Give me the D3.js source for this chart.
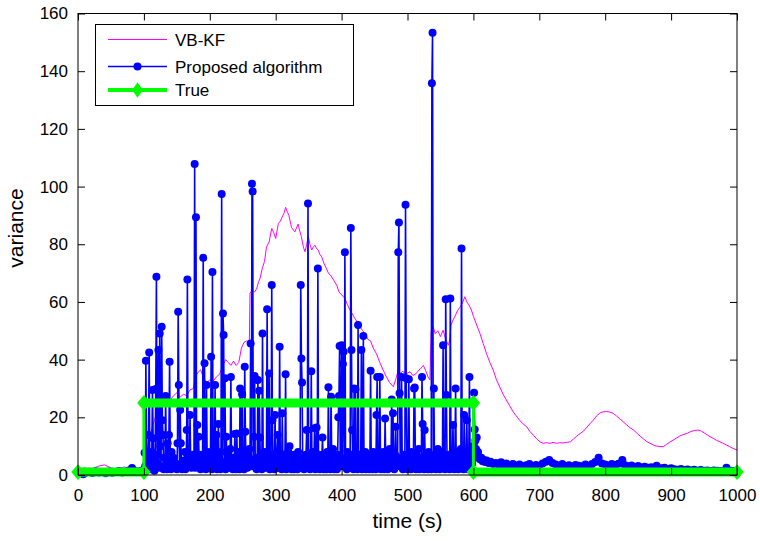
<!DOCTYPE html>
<html>
<head>
<meta charset="utf-8">
<script src="https://cdn.jsdelivr.net/npm/d3@7"></script>
<style>
  body { margin: 0; background: #fff; }
  svg { display: block; font-family: "Liberation Sans", Arial, sans-serif; }
</style>
</head>
<body>
<svg width="760" height="541"></svg>
<script>
"use strict";

// VB-KF estimate (t, variance)
var vbkf = [
  [0,2],[10,2.5],[20,2],[30,3],[40,3.5],[50,2.5],[60,2],[70,2.8],[80,2.2],[90,2.5],[100,2.2],
  [104,6],[108,12],[112,16],[116,19],[120,22],[125,23.5],[130,25],[135,26.5],[140,26],[145,27.5],
  [150,28.5],[155,27],[160,28],[165,27.5],[170,29.5],[175,30],[178,34],[182,35.5],[186,36.5],
  [190,34],[195,32],[200,33],[205,32.5],[210,34],[215,35],[220,38],[224,40],[228,39],[232,38],
  [236,39.5],[240,38],[244,39],[248,44],[252,46],[256,46.5],[260,46],[261,63],[264,64],[268,63.5],
  [271,64.5],[274,67],[276,68],[280,72],[283,74],[286,79],[290,80.8],[294,85.5],[297,84],[300,82],
  [304,87.2],[307,88],[310,89.5],[313,91],[315,92.8],[318,91],[320,90],[324,85.8],[329,84.3],
  [334,87],[336,85],[339,82.6],[342,79],[344.5,77.4],[347,80],[349.5,82.6],[352,80],[354.6,78],
  [357,79],[359.6,79.7],[362,78.5],[364.6,78],[367,76.5],[369.8,75.6],[373,73.5],[376,72],[380,70],
  [384,69],[388,67.5],[392.6,65.8],[396,63.5],[400,62.5],[405,61.2],[409,59],[412.7,57.2],[416,56],
  [420,54.3],[424,53],[428,51.4],[432,50],[436,49],[440,47],[444,46.5],[448,44],[453,42],[458,39],
  [463,36.4],[468,34],[473,32],[478.5,30.6],[482,33],[486,36.4],[489,35.2],[493,36],[497,35],
  [504,35.8],[508,34.5],[512,35],[516,36],[520,37],[524,38],[528,36],[531,34],[534,33],[536,50],
  [539,51.4],[542,49],[546,50],[550,48],[554,50.2],[558,47],[562,45],[564,46.8],[566,52],[569,53.7],
  [572,55],[576,57],[580,58.3],[584,60],[587,61.8],[590,60],[593,59],[597,57.2],[600,55],[605,52],
  [610,49],[615,45.5],[620,42],[625,39],[630,36.4],[635,33],[640,30.5],[645,28],[650,26],[655,24],
  [660,22],[665,20.5],[670,19],[675,17.8],[681,16.7],[686,15],[691,13.8],[696,12.5],[701,11.5],
  [706,11],[711,11.2],[716,11],[721,11.3],[726,11],[731,11.2],[736,11.1],[741,11.3],[747,11.5],
  [752,12.5],[757,13.5],[762,14.4],[767,15.2],[772,16.5],[777,17.8],[782,19],[787,20.5],[792,21.5],
  [797,21.9],[802,22],[807,21.8],[812,21.4],[817,20.5],[822,19.5],[827,18.5],[832,17.5],[837,16.5],
  [843,15.6],[848,14.5],[853,13.5],[858,12.5],[863,11.6],[868,11],[873,10.4],[878,10],[883,9.9],
  [888,9.8],[893,10.6],[898,11.4],[903,12.1],[908,12.8],[913,13.5],[918,14],[924,14.4],[929,15],
  [935,15.4],[941,15.6],[946,15.2],[951,14.5],[955,13.9],[959,13.3],[964,12.7],[969,12],[974,11.5],
  [979,11],[984,10.4],[989,9.8],[994,9.2],[1000,8.7]
];

// proposed algorithm estimate (t, variance)
var proposed = [
  [0,1.2],[4,0.8],[8,0.3],[12,0.9],[17,1.1],[22,0.7],[27,1.3],[32,0.9],[37,1.0],[42,0.6],[47,1.2],
  [52,0.8],[57,1.0],[62,1.4],[67,0.9],[72,1.1],[77,1.6],[82,2.4],[87,1.3],[92,1.0],[96,1.5],
  [100,1.8],[101,7.7],[102,3],[103,39.6],[104,4],[105,2.5],[106,6],[107,13.9],[108,42.5],[109,3],
  [110,5.5],[111,2],[112,8],[113,29.5],[114,12.7],[115,3],[116,1.5],[117,5],[118,29.8],[119,68.7],
  [120,4],[121,7],[122,43.3],[123,2.5],[124,49.1],[125,10],[126,3],[127,51.4],[128,19],[129,13.9],
  [130,2],[131,6],[132,3],[133,27.4],[134,4.5],[135,2],[136,11],[137,3.5],[138,13.9],[139,39.3],
  [140,5],[141,2],[142,8],[143,3],[145,6],[146,2.5],[148,4],[150,2],[151,11],[152,56.6],[153,31.2],
  [154,3],[155,22.5],[156,11],[157,4],[158,2],[160,5],[161,3],[162,8],[163,2],[164,4],[165,15.6],
  [166,67.8],[167,4],[168,6],[169,3],[170,20.8],[171,5],[172,2.5],[174,7],[175,3],[176,5],
  [177,107.8],[178,2.5],[179,89.4],[180,6],[181,17.3],[182,4],[183,13.3],[184,3],[185,7],[186,2],
  [187,4.5],[188,3],[189,6],[190,75.3],[191,3],[192,38.7],[193,5],[194,2],[195,31.2],[196,4],
  [197,8],[198,2.5],[199,5],[200,3],[201,7],[202,41],[203,2],[204,70.4],[205,5],[206,3],[207,9],
  [208,31.2],[209,4],[210,13.9],[211,2],[212,6],[213,17.7],[214,3],[215,5],[216,2],[217,8],
  [218,97.4],[219,3],[220,56],[221,48.5],[222,4],[223,33.5],[224,2],[225,13.3],[226,5],[227,3],
  [228,7],[229,2.5],[230,4],[231,9],[232,34],[233,3],[234,5],[235,2],[236,6],[237,3],[238,14.2],
  [239,4],[240,2],[241,14.4],[242,5],[243,3],[244,8],[245,2],[246,30],[247,4],[248,6],[249,28],
  [250,3],[251,5],[252,2],[253,37.5],[254,15],[255,4],[256,7],[257,2.5],[258,5],[259,3],[260,9],
  [261,4],[262,45.6],[263,3],[264,101],[265,98.3],[266,5],[267,13.3],[268,34.3],[269,3],[270,6],
  [271,2],[272,5],[273,32.9],[274,4],[275,29.2],[276,13],[277,3],[278,6],[279,2],[280,49.1],
  [281,5],[282,3],[283,8],[284,2.5],[285,4],[286,7],[287,57.5],[288,3],[289,5],[290,35.2],[291,2],
  [292,6],[293,4],[294,65.9],[295,19],[296,3],[297,7],[298,2],[299,20.8],[300,5],[301,3],[302,8],
  [303,13.9],[304,2.5],[305,5],[306,44.5],[307,3],[308,6],[309,2],[310,21.4],[311,4],[312,7],
  [313,3],[314,5],[315,34.9],[316,2],[317,6],[318,3],[319,8],[320,2.5],[321,10],[322,4],[323,6],
  [324,2],[325,5],[326,3],[327,7],[328,2],[329,4],[330,6],[331,3],[332,5],[333,2],[334,8],[335,3],
  [336,5],[337,4],[338,65.9],[339,40.4],[340,32.1],[341,4],[342,6],[343,2],[344,5],[345,3],[346,7],
  [347,15.6],[348,4],[349,94.1],[350,3],[351,6],[352,2],[353,5],[354,36],[355,4],[356,8],[357,3],
  [358,5],[359,16.2],[360,2],[361,6],[362,16.5],[363,4],[364,71.6],[365,3],[366,7],[367,2],[368,5],
  [369,3],[370,6],[371,13],[372,4],[373,2],[374,7],[375,3],[376,5],[377,2],[378,8],[379,4],
  [380,30.4],[381,3],[382,6],[383,2],[384,27.1],[385,5],[386,3],[387,9],[388,4],[389,2],[390,6],
  [391,3],[392,5],[393,2],[394,7],[395,20],[396,27.4],[397,44.7],[398,4],[399,6],[400,45],[401,3],
  [402,38.5],[403,42.7],[404,5],[405,77.2],[406,3],[407,6],[408,2],[409,8],[410,4],[411,5],[412,3],
  [413,7],[414,85.6],[415,43.3],[416,15.6],[417,4],[418,2],[419,30],[420,5],[421,29.7],[422,3],
  [423,6],[424,2],[425,52],[426,4],[427,7],[428,3],[429,5],[430,43.3],[431,2],[432,6],[433,48.2],
  [434,4],[435,3],[436,8],[437,2],[438,5],[439,3],[440,7],[441,4],[442,2],[443,6],[444,36.1],
  [445,3],[446,5],[447,2],[448,8],[449,4],[450,3],[451,6],[452,2],[453,20.8],[454,34],[455,4],
  [456,7],[457,3],[458,34],[459,5],[460,2],[461,6],[462,3],[463,8],[464,4],[465,2],[466,19.6],
  [467,5],[468,3],[469,7],[470,2],[471,5],[472,4],[473,9],[474,3],[475,6],[476,26.2],[477,3],
  [478,21.4],[479,5],[480,2],[481,7],[482,16.7],[483,4],[484,3],[485,6],[486,77.2],[487,87.5],
  [488,28.3],[489,5],[490,3],[491,34],[492,4],[493,2],[494,7],[495,3],[496,5],[497,93.7],[498,33.5],
  [499,4],[500,2],[501,6],[502,33.2],[503,3],[504,5],[505,2],[506,8],[507,4],[508,3],[509,6],
  [510,30],[511,30.3],[512,4],[513,2],[514,7],[515,3],[516,5],[517,9],[518,2],[519,6],[520,4],
  [521,3],[522,34],[523,17.7],[524,5],[525,2],[526,15.6],[527,4],[528,7],[529,3],[530,5],[531,2],
  [532,8],[533,4],[534,3],[535,6],[536,2],[537,135.8],[538,153.3],[539,5],[540,30],[541,3],[542,7],
  [543,2],[544,5],[545,4],[546,9],[547,3],[548,6],[549,2],[550,5],[551,3],[552,8],[553,4],[554,45],
  [555,3],[556,6],[557,2],[558,60.9],[559,27.7],[560,5],[561,3],[562,7],[563,4],[564,2],[565,61.2],
  [566,6],[567,3],[568,5],[569,17.3],[570,4],[571,2],[572,8],[573,30],[574,3],[575,6],[576,4],
  [577,2],[578,7],[579,5],[580,3],[581,9],[582,78.5],[583,4],[584,6],[585,2],[586,20.8],[587,5],
  [588,3],[589,7],[590,19],[591,4],[592,2],[593,6],[594,34],[595,3],[596,8],[597,5],[598,4],
  [599,10],[600,6],[601,28.5],[602,15.8],[603,12],[604,9],[605,13],[606,7],[607,8],[608,6],
  [610,5.5],[612,6],[614,4.8],[616,5.2],[618,4.5],[620,5],[623,4.2],[626,4.6],[630,3.8],[634,4.2],
  [638,3.6],[642,4.4],[646,3.5],[650,4],[655,3.3],[660,3.8],[665,3.2],[670,3.6],[675,3],[680,3.4],
  [685,3.8],[690,3.1],[695,3.5],[700,3.2],[705,4],[710,4.6],[715,5.2],[720,4.2],[725,3.6],[730,3.2],
  [735,3.8],[740,3.1],[745,3.4],[750,2.9],[755,3.5],[760,3.2],[765,3],[770,3.6],[775,3.1],[780,3.8],
  [785,4.5],[790,6],[795,4],[800,3.6],[805,3.2],[810,3.8],[815,3.4],[820,3.9],[826,5.2],[830,3.4],
  [835,3],[840,3.3],[845,2.8],[850,3.1],[855,2.6],[860,2.9],[865,2.5],[870,2.7],[878,3.2],[885,2.3],
  [890,2.5],[895,2],[900,2.3],[905,2],[910,1.8],[915,2.1],[920,1.7],[925,1.9],[930,1.6],[935,1.8],
  [940,1.5],[945,1.7],[950,1.5],[955,1.6],[960,1.4],[965,1.6],[970,1.5],[975,1.4],[984,2.5],
  [990,1.5],[995,1.4],[1000,1.3]
];

// true variance (step)
var trueTime  = [0, 100, 100, 600, 600, 1000];
var trueValue = [1, 1, 25, 25, 1, 1];

var xTicks = [0,100,200,300,400,500,600,700,800,900,1000];
var yTicks = [0,20,40,60,80,100,120,140,160];
var legendNames = ["VB-KF", "Proposed algorithm", "True"];

var svg = d3.select("svg");
var pLeft = 78, pRight = 737, pTop = 13.5, pBottom = 475;

var x = d3.scaleLinear().domain([0,1000]).range([pLeft,pRight]);
var y = d3.scaleLinear().domain([0,160]).range([pBottom,pTop]);

svg.append("defs").append("clipPath").attr("id","clip")
  .append("rect").attr("x",pLeft).attr("y",pTop).attr("width",pRight-pLeft).attr("height",pBottom-pTop);

var line = d3.line().x(d => x(d[0])).y(d => y(d[1]));

var plot = svg.append("g").attr("clip-path","url(#clip)");

// VB-KF
plot.append("path")
  .datum(vbkf)
  .attr("d", line)
  .attr("fill","none")
  .attr("stroke","#ff00ff")
  .attr("stroke-width",1);

// proposed
plot.append("path")
  .datum(proposed)
  .attr("d", line)
  .attr("fill","none")
  .attr("stroke","#0000ff")
  .attr("stroke-width",1.6);
svg.append("g").selectAll("circle")
  .data(proposed)
  .enter()
  .append("circle")
  .attr("cx",d => x(d[0]))
  .attr("cy",d => y(d[1]))
  .attr("r",4)
  .attr("fill","#0000ff");

// true
var truePts = trueTime.map((t,i) => [t, trueValue[i]]);
svg.append("path")
  .datum(truePts)
  .attr("d", line)
  .attr("fill","none")
  .attr("stroke","#00ff00")
  .attr("stroke-width",3);
// dense markers look like a thick band on the flat parts
var flats = [];
for (var i = 0; i < truePts.length-1; i++) {
  if (truePts[i][1] === truePts[i+1][1]) flats.push([truePts[i], truePts[i+1]]);
}
svg.append("g").selectAll("path")
  .data(flats)
  .enter()
  .append("path")
  .attr("d", line)
  .attr("stroke","#00ff00")
  .attr("stroke-width",9);
var diamond = d3.symbol().type(d3.symbolDiamond).size(70);
svg.append("g").selectAll("path")
  .data(truePts)
  .enter()
  .append("path")
  .attr("d", diamond)
  .attr("transform", d => "translate(" + x(d[0]) + "," + y(d[1]) + ") scale(1.5,1)")
  .attr("fill","#00ff00");

// axes
var fontSize = "17px";
function styleAxis(g) {
  g.select(".domain").remove();
  g.selectAll("line").attr("stroke","#000");
  g.selectAll("text").attr("fill","#000").style("font-size",fontSize).style("font-family",'"Liberation Sans", Arial, sans-serif');
}
svg.append("g").attr("transform","translate(0,"+pBottom+")")
  .call(d3.axisBottom(x).tickValues(xTicks).tickSizeInner(-7).tickSizeOuter(0).tickPadding(14).tickFormat(d3.format("d")))
  .call(styleAxis);
svg.append("g").attr("transform","translate(0,"+pTop+")")
  .call(d3.axisTop(x).tickValues(xTicks).tickSizeInner(-7).tickSizeOuter(0).tickFormat(""))
  .call(styleAxis);
svg.append("g").attr("transform","translate("+pLeft+",0)")
  .call(d3.axisLeft(y).tickValues(yTicks).tickSizeInner(-7).tickSizeOuter(0).tickPadding(10).tickFormat(d3.format("d")))
  .call(styleAxis);
svg.append("g").attr("transform","translate("+pRight+",0)")
  .call(d3.axisRight(y).tickValues(yTicks).tickSizeInner(-7).tickSizeOuter(0).tickFormat(""))
  .call(styleAxis);

svg.append("rect")
  .attr("x",pLeft).attr("y",pTop).attr("width",pRight-pLeft).attr("height",pBottom-pTop)
  .attr("fill","none").attr("stroke","#000").attr("stroke-width",1);

// axis titles
svg.append("text")
  .attr("x",(pLeft+pRight)/2).attr("y",528)
  .attr("text-anchor","middle")
  .style("font-size","21px")
  .text("time (s)");
svg.append("text")
  .attr("transform","translate(23,228) rotate(-90)")
  .attr("text-anchor","middle")
  .style("font-size","21px")
  .text("variance");

// legend
var lg = svg.append("g");
lg.append("rect")
  .attr("x",95.5).attr("y",24.5).attr("width",258).attr("height",81)
  .attr("fill","#fff").attr("stroke","#000").attr("stroke-width",1);
var rowY = [39.5, 66.5, 90];
var colors = ["#ff00ff", "#0000ff", "#00ff00"];
var widths = [1, 1.6, 4];
legendNames.forEach(function(name, i) {
  lg.append("line")
    .attr("x1",108).attr("x2",167).attr("y1",rowY[i]).attr("y2",rowY[i])
    .attr("stroke",colors[i]).attr("stroke-width",widths[i]);
  if (i === 1) {
    lg.append("circle").attr("cx",137.5).attr("cy",rowY[i]).attr("r",4).attr("fill",colors[i]);
  }
  if (i === 2) {
    lg.append("path").attr("d",diamond)
      .attr("transform","translate(137.5,"+rowY[i]+") scale(1.2,1)")
      .attr("fill",colors[i]);
  }
  lg.append("text")
    .attr("x",175).attr("y",rowY[i]).attr("dy","0.36em")
    .style("font-size","17px")
    .text(name);
});
</script>
</body>
</html>
